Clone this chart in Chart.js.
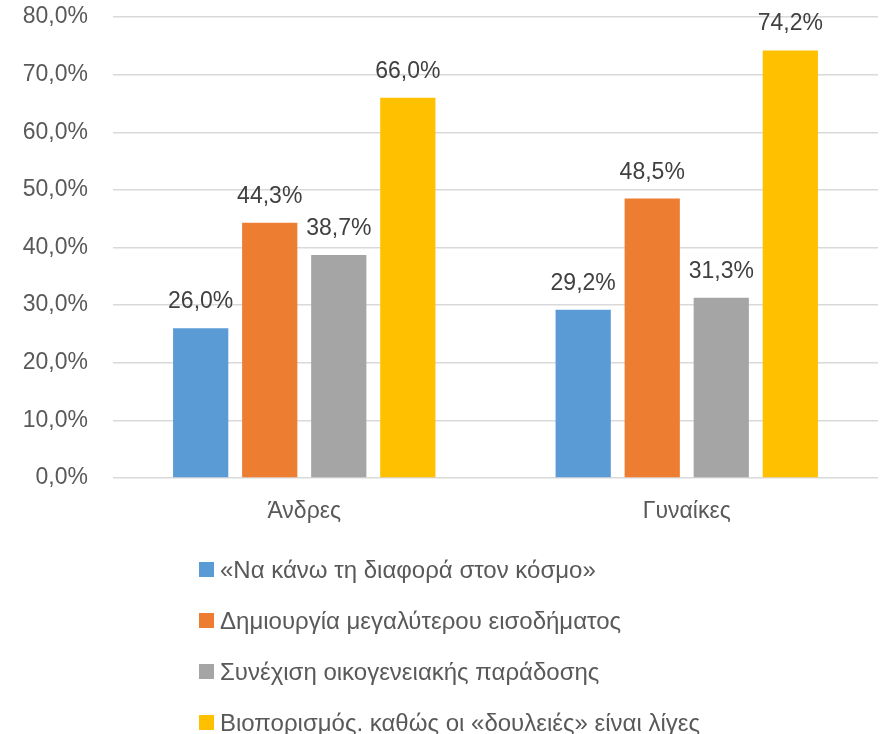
<!DOCTYPE html>
<html>
<head>
<meta charset="utf-8">
<script src="https://cdn.jsdelivr.net/npm/chart.js@4"></script>
<style>
  html, body { margin: 0; padding: 0; background: #fff; }
  #wrap { position: relative; width: 881px; height: 734px; }
  #legend { position: absolute; left: 199px; top: 544px; font-family: "Liberation Sans", Arial, sans-serif; font-size: 24px; color: #595959; }
  .item { height: 51px; display: flex; align-items: center; white-space: nowrap; }
  .sw { width: 15px; height: 15px; margin-right: 6px; flex: none; }
</style>
</head>
<body>
<div id="wrap">
  <canvas id="c" width="881" height="734"></canvas>
  <div id="legend"></div>
</div>
<script>
const categories = ["Άνδρες", "Γυναίκες"];
const seriesNames = [
  "«Να κάνω τη διαφορά στον κόσμο»",
  "Δημιουργία μεγαλύτερου εισοδήματος",
  "Συνέχιση οικογενειακής παράδοσης",
  "Βιοπορισμός. καθώς οι «δουλειές» είναι λίγες"
];
const diaforaValues = [26.0, 29.2];
const eisodimaValues = [44.3, 48.5];
const paradosiValues = [38.7, 31.3];
const vioporismosValues = [66.0, 74.2];
const seriesColors = ["#5B9BD5", "#ED7D31", "#A5A5A5", "#FFC000"];
const yTicks = [0, 10, 20, 30, 40, 50, 60, 70, 80];

const allValues = [diaforaValues, eisodimaValues, paradosiValues, vioporismosValues];
const fmt = v => v.toFixed(1).replace('.', ',') + '%';
const FONT = '"Liberation Sans", Arial, sans-serif';

const dataLabels = {
  id: 'dataLabels',
  afterDatasetsDraw(chart) {
    const ctx = chart.ctx;
    ctx.save();
    ctx.font = '23px ' + FONT;
    ctx.fillStyle = '#404040';
    ctx.textAlign = 'center';
    ctx.textBaseline = 'alphabetic';
    chart.data.datasets.forEach((ds, i) => {
      const meta = chart.getDatasetMeta(i);
      meta.data.forEach((el, j) => {
        ctx.fillText(fmt(ds.data[j]), el.x, el.y - 20);
      });
    });
    ctx.restore();
  }
};

const chart = new Chart(document.getElementById('c'), {
  type: 'bar',
  data: {
    labels: categories,
    datasets: allValues.map((vals, i) => ({
      label: seriesNames[i],
      data: vals,
      backgroundColor: seriesColors[i],
      borderWidth: 0,
      barPercentage: 0.8,
      categoryPercentage: 0.722
    }))
  },
  options: {
    responsive: false,
    animation: false,
    layout: { padding: { top: 0, left: 0, right: 3, bottom: 200 } },
    plugins: { legend: { display: false }, tooltip: { enabled: false } },
    scales: {
      x: {
        grid: { display: false, drawTicks: false },
        border: { display: false },
        ticks: { color: '#595959', font: { family: FONT, size: 23 }, padding: 20 },
        afterFit(s) { s.height = 56; }
      },
      y: {
        min: 0, max: 80,
        afterBuildTicks(s) { s.ticks = yTicks.map(v => ({ value: v })); },
        grid: { color: '#d9d9d9', lineWidth: 1.5, drawTicks: false },
        border: { display: false },
        ticks: { color: '#595959', font: { family: FONT, size: 23 }, padding: 25, callback: v => fmt(v) },
        afterFit(s) { s.width = 113; s.paddingTop = 17; }
      }
    }
  },
  plugins: [dataLabels]
});

const legend = document.getElementById('legend');
chart.data.datasets.forEach(ds => {
  const row = document.createElement('div');
  row.className = 'item';
  const sw = document.createElement('span');
  sw.className = 'sw';
  sw.style.background = ds.backgroundColor;
  const t = document.createElement('span');
  t.textContent = ds.label;
  row.appendChild(sw);
  row.appendChild(t);
  legend.appendChild(row);
});
</script>
</body>
</html>
